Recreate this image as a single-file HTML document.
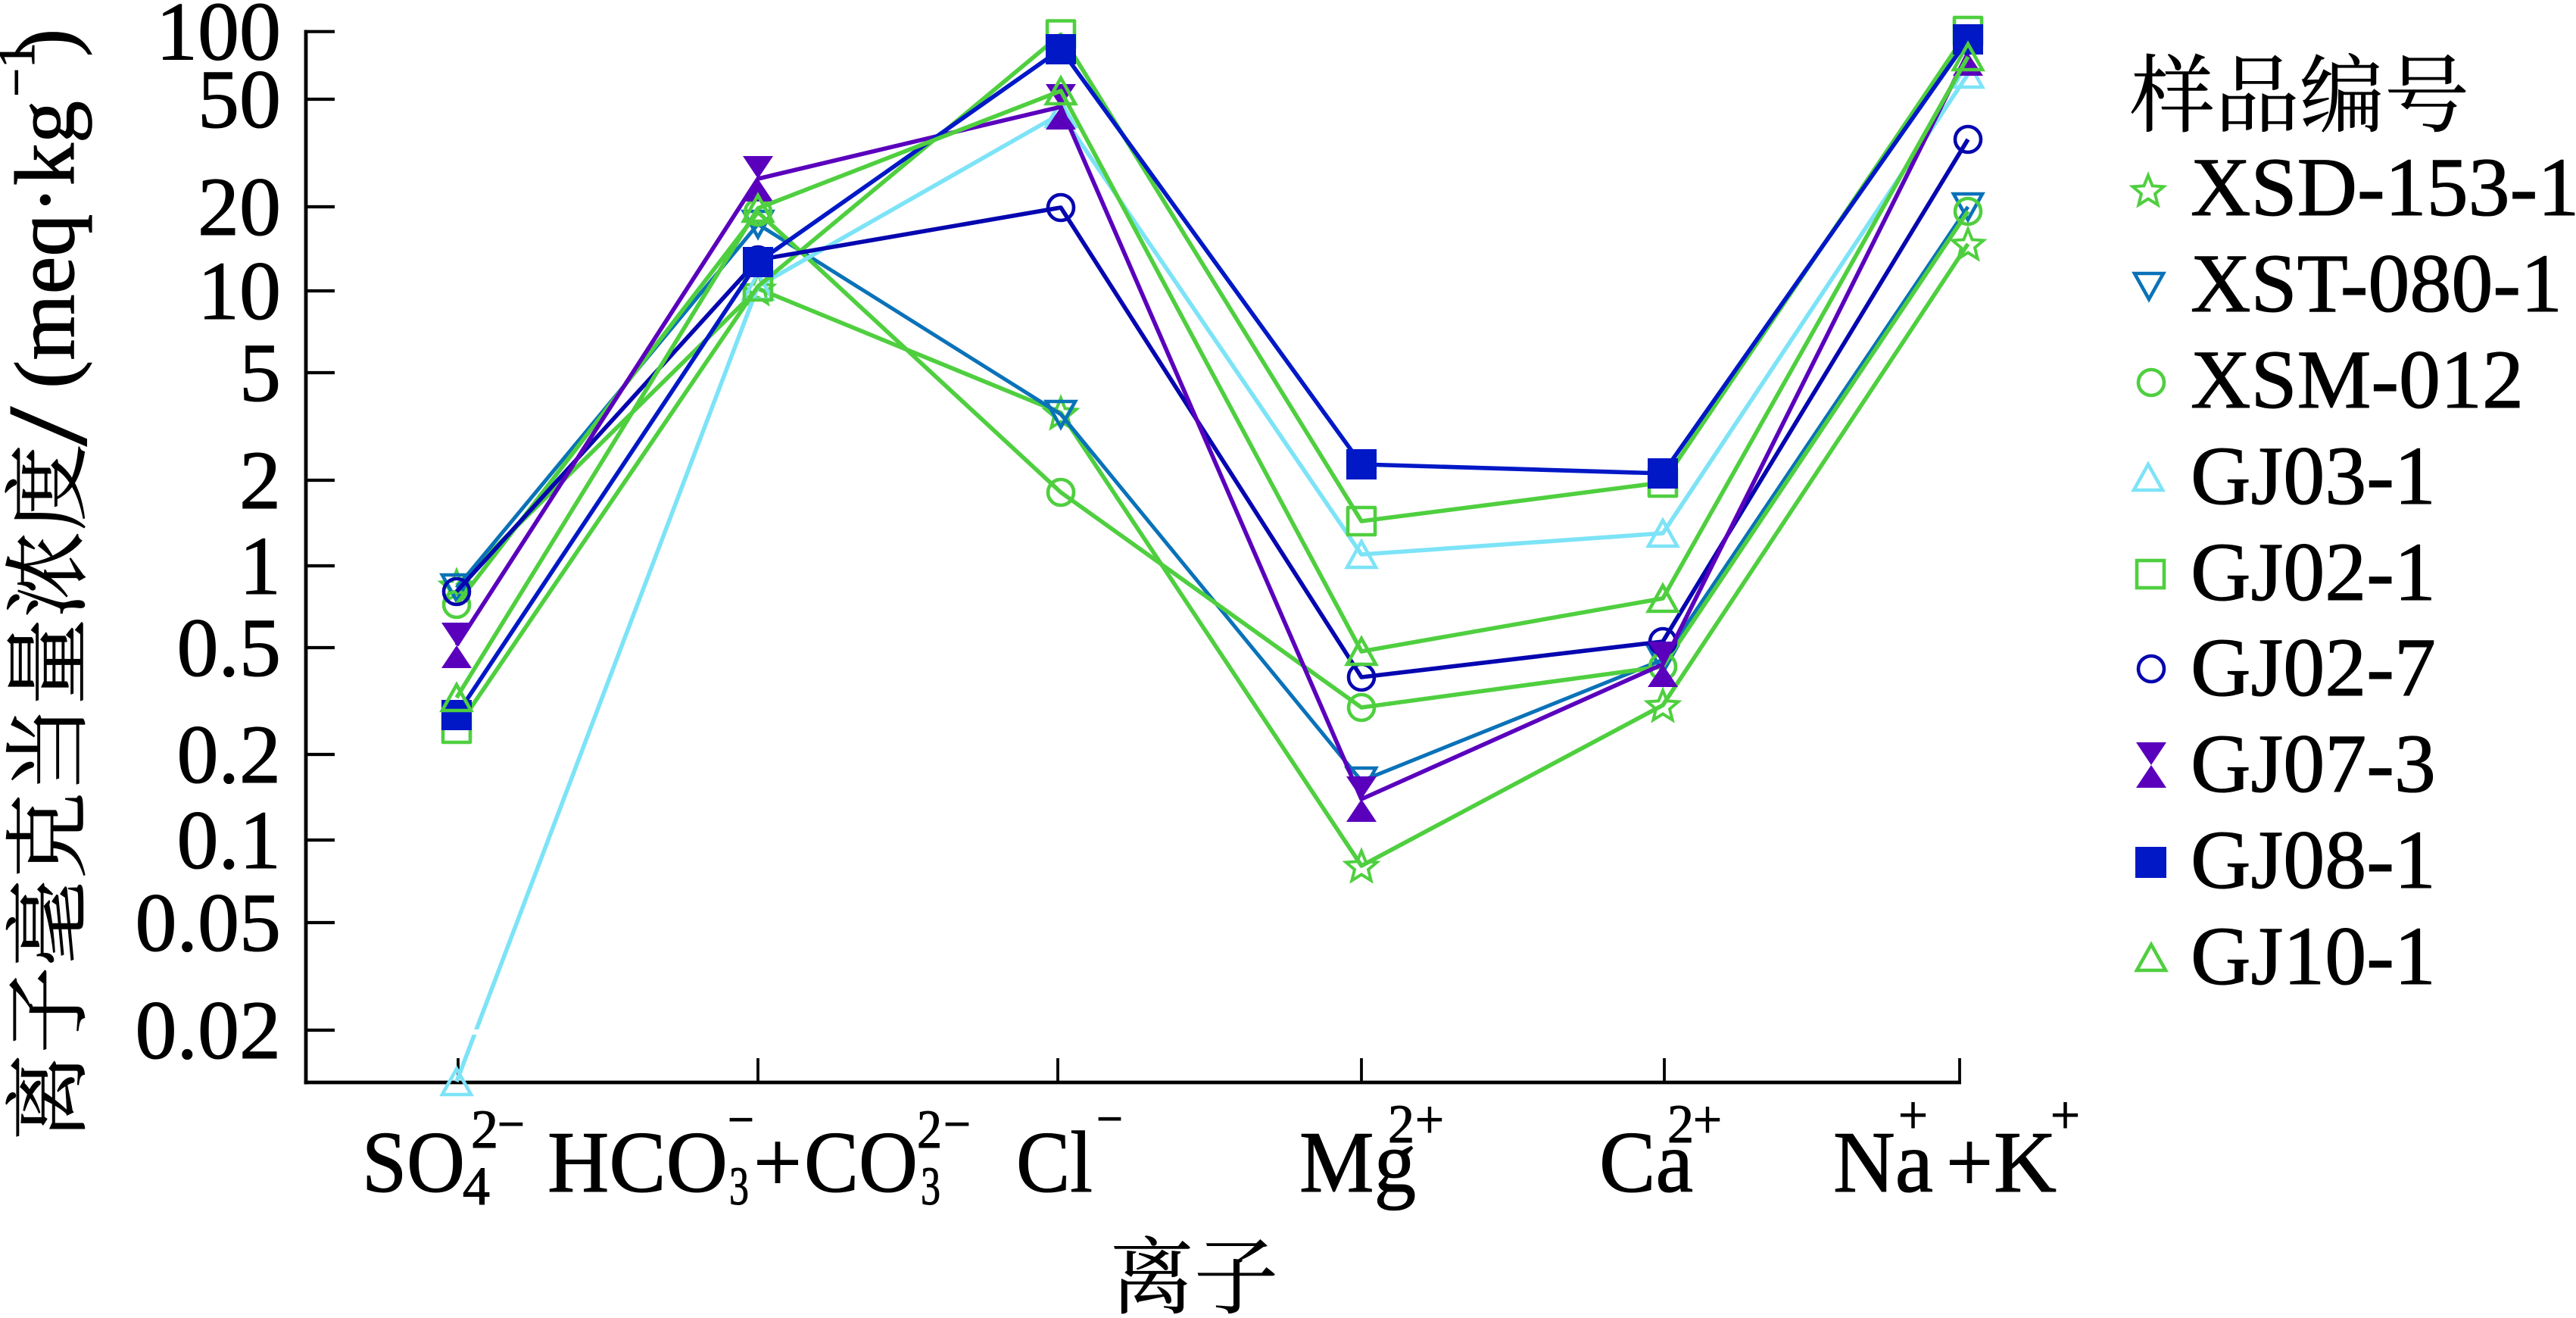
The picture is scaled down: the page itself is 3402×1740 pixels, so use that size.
<!DOCTYPE html>
<html><head><meta charset="utf-8"><style>
html,body{margin:0;padding:0;background:#fff;}
svg{display:block;}
text{font-family:"Liberation Serif","Noto Serif CJK SC",serif;fill:#000;stroke:#000;stroke-width:1.1px;}
.cjk{font-family:"Liberation Serif","Noto Serif CJK SC","Noto Sans CJK SC",serif;stroke-width:0.6px;}
</style></head><body>
<svg width="3402" height="1740" viewBox="0 0 3402 1740" xmlns="http://www.w3.org/2000/svg">
<rect width="3402" height="1740" fill="#fff"/>

<!-- axes -->
<g stroke="#000" fill="none">
<line x1="404" y1="39.5" x2="404" y2="1431.5" stroke-width="4.8"/>
<line x1="401.6" y1="1429" x2="2590" y2="1429" stroke-width="4.8"/>
<g stroke-width="4.2">
<line x1="404" y1="41.7" x2="442" y2="41.7"/>
<line x1="404" y1="131" x2="442" y2="131"/>
<line x1="404" y1="273" x2="442" y2="273"/>
<line x1="404" y1="384" x2="442" y2="384"/>
<line x1="404" y1="492" x2="442" y2="492"/>
<line x1="404" y1="634" x2="442" y2="634"/>
<line x1="404" y1="747" x2="442" y2="747"/>
<line x1="404" y1="855" x2="442" y2="855"/>
<line x1="404" y1="996" x2="442" y2="996"/>
<line x1="404" y1="1109" x2="442" y2="1109"/>
<line x1="404" y1="1218" x2="442" y2="1218"/>
<line x1="404" y1="1360" x2="442" y2="1360"/>
</g>
<g stroke-width="3.8">
<line x1="605" y1="1397" x2="605" y2="1429"/>
<line x1="1001" y1="1397" x2="1001" y2="1429"/>
<line x1="1397" y1="1397" x2="1397" y2="1429"/>
<line x1="1798" y1="1397" x2="1798" y2="1429"/>
<line x1="2198" y1="1397" x2="2198" y2="1429"/>
<line x1="2588" y1="1397" x2="2588" y2="1429"/>
</g>
</g>

<!-- y tick labels -->
<g font-size="110" text-anchor="end">
<text x="371" y="78.7">100</text>
<text x="371" y="168">50</text>
<text x="371" y="310">20</text>
<text x="371" y="421">10</text>
<text x="371" y="529">5</text>
<text x="371" y="671">2</text>
<text x="371" y="784">1</text>
<text x="371" y="892">0.5</text>
<text x="371" y="1033">0.2</text>
<text x="371" y="1146">0.1</text>
<text x="371" y="1255">0.05</text>
<text x="371" y="1397">0.02</text>
</g>

<!-- y axis title -->
<g transform="translate(97,1503) rotate(-90)">
<text class="cjk" x="-3" y="6" font-size="113" textLength="920" lengthAdjust="spacingAndGlyphs">离子毫克当量浓度</text>
<text x="914" y="16" font-size="150" textLength="52" lengthAdjust="spacingAndGlyphs">/</text>
<text x="990" y="0" font-size="112" textLength="380" lengthAdjust="spacingAndGlyphs">(meq·kg</text>
<text x="1375" y="-52" font-size="70" textLength="72" lengthAdjust="spacingAndGlyphs">−1</text>
<text x="1428" y="0" font-size="112">)</text>
</g>

<!-- x tick labels -->
<g>
<text x="478" y="1573" font-size="115" textLength="136" lengthAdjust="spacingAndGlyphs">SO</text>
<text x="611" y="1590" font-size="72" textLength="36" lengthAdjust="spacingAndGlyphs">4</text>
<text x="622" y="1515" font-size="72" textLength="36" lengthAdjust="spacingAndGlyphs">2</text>
<text x="657" y="1508" font-size="72" textLength="36" lengthAdjust="spacingAndGlyphs">−</text>

<text x="723" y="1573" font-size="115" textLength="238" lengthAdjust="spacingAndGlyphs">HCO</text>
<text x="963" y="1590" font-size="72" textLength="26" lengthAdjust="spacingAndGlyphs">3</text>
<text x="961" y="1502" font-size="72" textLength="35" lengthAdjust="spacingAndGlyphs">−</text>
<text x="995" y="1573" font-size="115" textLength="64" lengthAdjust="spacingAndGlyphs">+</text>
<text x="1062" y="1573" font-size="115" textLength="150" lengthAdjust="spacingAndGlyphs">CO</text>
<text x="1216" y="1590" font-size="72" textLength="26" lengthAdjust="spacingAndGlyphs">3</text>
<text x="1211" y="1515" font-size="72" textLength="33" lengthAdjust="spacingAndGlyphs">2</text>
<text x="1246" y="1508" font-size="72" textLength="36" lengthAdjust="spacingAndGlyphs">−</text>

<text x="1342" y="1573" font-size="115" textLength="101" lengthAdjust="spacingAndGlyphs">Cl</text>
<text x="1448" y="1501" font-size="72" textLength="35" lengthAdjust="spacingAndGlyphs">−</text>

<text x="1716" y="1573" font-size="115" textLength="154" lengthAdjust="spacingAndGlyphs">Mg</text>
<text x="1833" y="1508" font-size="72" textLength="35" lengthAdjust="spacingAndGlyphs">2</text>
<text x="1869" y="1502" font-size="72" textLength="38" lengthAdjust="spacingAndGlyphs">+</text>

<text x="2112" y="1573" font-size="115" textLength="124" lengthAdjust="spacingAndGlyphs">Ca</text>
<text x="2202" y="1508" font-size="72" textLength="35" lengthAdjust="spacingAndGlyphs">2</text>
<text x="2236" y="1502" font-size="72" textLength="38" lengthAdjust="spacingAndGlyphs">+</text>

<text x="2421" y="1573" font-size="115" textLength="132" lengthAdjust="spacingAndGlyphs">Na</text>
<text x="2507" y="1496" font-size="72" textLength="39" lengthAdjust="spacingAndGlyphs">+</text>
<text x="2570" y="1573" font-size="115" textLength="62" lengthAdjust="spacingAndGlyphs">+</text>
<text x="2633" y="1573" font-size="115" textLength="83" lengthAdjust="spacingAndGlyphs">K</text>
<text x="2708" y="1496" font-size="72" textLength="39" lengthAdjust="spacingAndGlyphs">+</text>
</g>

<!-- x axis title -->
<text class="cjk" x="1466" y="1725" font-size="111" textLength="222" lengthAdjust="spacingAndGlyphs">离子</text>

<!-- series -->
<g fill="none" stroke-linejoin="round" stroke-width="5.6">
<!-- XSD-153-1 -->
<polyline stroke="#4fcf3f" points="603,773 1001,381 1401,545 1798,1143 2196,931 2599,322"/>
<g stroke="#4fcf3f" stroke-width="4" stroke-linejoin="miter">
<polygon transform="translate(603,775)" points="0,-21.5 5.58,-7.69 20.45,-6.64 9.03,2.94 12.64,17.39 0,9.5 -12.64,17.39 -9.03,2.94 -20.45,-6.64 -5.58,-7.69"/>
<polygon transform="translate(1001,383)" points="0,-21.5 5.58,-7.69 20.45,-6.64 9.03,2.94 12.64,17.39 0,9.5 -12.64,17.39 -9.03,2.94 -20.45,-6.64 -5.58,-7.69"/>
<polygon transform="translate(1401,547)" points="0,-21.5 5.58,-7.69 20.45,-6.64 9.03,2.94 12.64,17.39 0,9.5 -12.64,17.39 -9.03,2.94 -20.45,-6.64 -5.58,-7.69"/>
<polygon transform="translate(1798,1145)" points="0,-21.5 5.58,-7.69 20.45,-6.64 9.03,2.94 12.64,17.39 0,9.5 -12.64,17.39 -9.03,2.94 -20.45,-6.64 -5.58,-7.69"/>
<polygon transform="translate(2196,933)" points="0,-21.5 5.58,-7.69 20.45,-6.64 9.03,2.94 12.64,17.39 0,9.5 -12.64,17.39 -9.03,2.94 -20.45,-6.64 -5.58,-7.69"/>
<polygon transform="translate(2599,324)" points="0,-21.5 5.58,-7.69 20.45,-6.64 9.03,2.94 12.64,17.39 0,9.5 -12.64,17.39 -9.03,2.94 -20.45,-6.64 -5.58,-7.69"/>
</g>

<!-- XST-080-1 -->
<polyline stroke="#0a72b8" stroke-width="5" points="603,776 1001,296 1401,547 1798,1031 2196,871 2599,273"/>
<g stroke="#0a72b8" stroke-width="4.6" stroke-linejoin="miter">
<polygon transform="translate(603,776)" points="-19,-17 19,-17 0,17"/>
<polygon transform="translate(1001,296)" points="-19,-17 19,-17 0,17"/>
<polygon transform="translate(1401,547)" points="-19,-17 19,-17 0,17"/>
<polygon transform="translate(1798,1031)" points="-19,-17 19,-17 0,17"/>
<polygon transform="translate(2196,871)" points="-19,-17 19,-17 0,17"/>
<polygon transform="translate(2599,273)" points="-19,-17 19,-17 0,17"/>
</g>

<!-- XSM-012 -->
<polyline stroke="#4fcf3f" points="603,798 1001,280 1401,650 1798,934 2196,880 2599,279"/>
<g stroke="#4fcf3f" stroke-width="4.6">
<circle cx="603" cy="798" r="17"/>
<circle cx="1001" cy="280" r="17"/>
<circle cx="1401" cy="650" r="17"/>
<circle cx="1798" cy="934" r="17"/>
<circle cx="2196" cy="880" r="17"/>
<circle cx="2599" cy="279" r="17"/>
</g>

<!-- GJ03-1 -->
<polyline stroke="#7de3f7" points="603,1428 1001,378 1401,150 1798,732 2196,704 2599,98"/>
<rect x="612" y="1359" width="26" height="7" fill="#fff" stroke="none"/>
<g stroke="#7de3f7" stroke-width="4.6" stroke-linejoin="miter">
<polygon transform="translate(603,1428)" points="0,-17 19,17 -19,17"/>
<polygon transform="translate(1001,378)" points="0,-17 19,17 -19,17"/>
<polygon transform="translate(1401,150)" points="0,-17 19,17 -19,17"/>
<polygon transform="translate(1798,732)" points="0,-17 19,17 -19,17"/>
<polygon transform="translate(2196,704)" points="0,-17 19,17 -19,17"/>
<polygon transform="translate(2599,98)" points="0,-17 19,17 -19,17"/>
</g>

<!-- GJ02-1 -->
<polyline stroke="#4fcf3f" points="603,962 1001,378 1401,45.5 1798,688 2196,637 2599,41"/>
<g stroke="#4fcf3f" stroke-width="4.6">
<rect x="585" y="944" width="36" height="36"/>
<rect x="983" y="360" width="36" height="36"/>
<rect x="1383" y="27.5" width="36" height="36"/>
<rect x="1780" y="670" width="36" height="36"/>
<rect x="2178" y="619" width="36" height="36"/>
<rect x="2581" y="23" width="36" height="36"/>
</g>

<!-- GJ02-7 -->
<polyline stroke="#0606b0" points="603,781 1001,343 1401,274 1798,894 2196,847 2599,184"/>
<g stroke="#0606b0" stroke-width="4.6">
<circle cx="603" cy="781" r="17"/>
<circle cx="1001" cy="343" r="17"/>
<circle cx="1401" cy="274" r="17"/>
<circle cx="1798" cy="894" r="17"/>
<circle cx="2196" cy="847" r="17"/>
<circle cx="2599" cy="184" r="17"/>
</g>

<!-- GJ07-3 -->
<polyline stroke="#5a00bd" points="603,852 1001,236 1401,141 1798,1055 2196,877 2599,70"/>
<g fill="#5a00bd" stroke="none">
<polygon transform="translate(603,852)" points="-20,-30 20,-30 0,0 20,30 -20,30 0,0"/>
<polygon transform="translate(1001,236)" points="-20,-30 20,-30 0,0 20,30 -20,30 0,0"/>
<polygon transform="translate(1401,141)" points="-20,-30 20,-30 0,0 20,30 -20,30 0,0"/>
<polygon transform="translate(1798,1055)" points="-20,-30 20,-30 0,0 20,30 -20,30 0,0"/>
<polygon transform="translate(2196,877)" points="-20,-30 20,-30 0,0 20,30 -20,30 0,0"/>
<polygon transform="translate(2599,70)" points="-20,-30 20,-30 0,0 20,30 -20,30 0,0"/>
</g>

<!-- GJ08-1 -->
<polyline stroke="#0018c6" points="603,944 1001,346 1401,65 1798,613 2196,625 2599,52"/>
<g fill="#0018c6" stroke="none">
<rect x="583" y="924" width="40" height="40"/>
<rect x="981" y="326" width="40" height="40"/>
<rect x="1381" y="45" width="40" height="40"/>
<rect x="1778" y="593" width="40" height="40"/>
<rect x="2176" y="605" width="40" height="40"/>
<rect x="2579" y="32" width="40" height="40"/>
</g>

<!-- GJ10-1 -->
<polyline stroke="#4fcf3f" points="603,921 1001,275 1401,120 1798,860 2196,790 2599,75"/>
<g stroke="#4fcf3f" stroke-width="4.6" stroke-linejoin="miter">
<polygon transform="translate(603,921)" points="0,-17 19,17 -19,17"/>
<polygon transform="translate(1001,275)" points="0,-17 19,17 -19,17"/>
<polygon transform="translate(1401,120)" points="0,-17 19,17 -19,17"/>
<polygon transform="translate(1798,860)" points="0,-17 19,17 -19,17"/>
<polygon transform="translate(2196,790)" points="0,-17 19,17 -19,17"/>
<polygon transform="translate(2599,75)" points="0,-17 19,17 -19,17"/>
</g>
</g>

<!-- legend -->
<text class="cjk" x="2813" y="165" font-size="112" textLength="448" lengthAdjust="spacingAndGlyphs">样品编号</text>
<g font-size="110">
<text x="2893" y="284">XSD-153-1</text>
<text x="2893" y="411">XST-080-1</text>
<text x="2893" y="538">XSM-012</text>
<text x="2893" y="665">GJ03-1</text>
<text x="2893" y="792">GJ02-1</text>
<text x="2893" y="918">GJ02-7</text>
<text x="2893" y="1045">GJ07-3</text>
<text x="2893" y="1172">GJ08-1</text>
<text x="2893" y="1299">GJ10-1</text>
</g>
<g fill="none">
<polygon transform="translate(2837,253)" stroke="#4fcf3f" stroke-width="4" points="0,-21.5 5.58,-7.69 20.45,-6.64 9.03,2.94 12.64,17.39 0,9.5 -12.64,17.39 -9.03,2.94 -20.45,-6.64 -5.58,-7.69"/>
<polygon transform="translate(2838,378)" stroke="#0a72b8" stroke-width="4.6" points="-19,-17 19,-17 0,17"/>
<circle cx="2841" cy="505" r="17" stroke="#4fcf3f" stroke-width="4.6"/>
<polygon transform="translate(2837,630)" stroke="#7de3f7" stroke-width="4.6" points="0,-17 19,17 -19,17"/>
<rect x="2822" y="740" width="36" height="36" stroke="#4fcf3f" stroke-width="4.6"/>
<circle cx="2841" cy="883" r="17" stroke="#0606b0" stroke-width="4.6"/>
<polygon transform="translate(2841,1010)" fill="#5a00bd" points="-20,-30 20,-30 0,0 20,30 -20,30 0,0"/>
<rect x="2820" y="1118" width="41" height="41" fill="#0018c6"/>
<polygon transform="translate(2841,1264)" stroke="#4fcf3f" stroke-width="4.6" points="0,-17 19,17 -19,17"/>
</g>
</svg>
</body></html>
